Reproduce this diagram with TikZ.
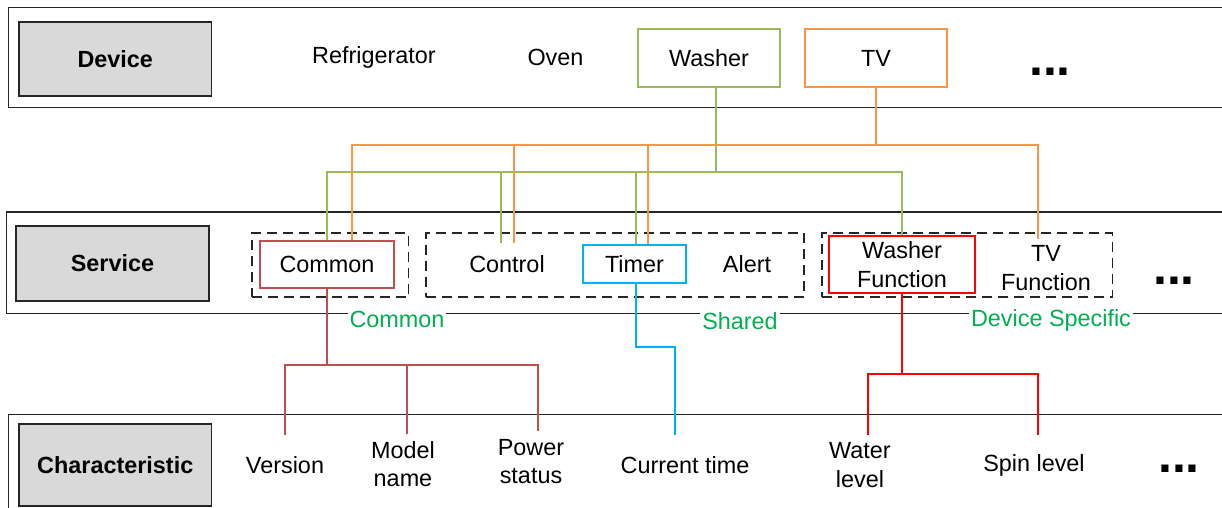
\documentclass[tikz,border=0pt]{standalone}
\usepackage{fontspec}
\setmainfont{Liberation Sans}
\definecolor{washergreen}{HTML}{9BBB59}
\definecolor{tvorange}{HTML}{F79646}
\definecolor{commonred}{HTML}{C0504D}
\definecolor{specred}{HTML}{FF0000}
\definecolor{timerblue}{HTML}{00B0F0}
\definecolor{taggreen}{HTML}{00B050}
\definecolor{layergray}{HTML}{D9D9D9}
\tikzset{inner sep=0pt}

\begin{document}
\begin{tikzpicture}[x=0.5pt,y=-0.5pt,font=\fontsize{11.7pt}{14.2pt}\selectfont,
        band/.style={draw=black!85,line width=0.9pt},
        layer/.style={draw=black!85,line width=0.8pt,fill=layergray,minimum width=96.25pt,minimum height=37pt,font=\fontsize{11.7pt}{14.2pt}\selectfont\bfseries},
        devbox/.style={draw,line width=0.8pt,minimum width=71pt,minimum height=29pt},
        group/.style={draw=black!85,line width=0.7pt,dash pattern=on 5pt off 3pt,minimum height=32pt},
        svcbox/.style={draw,line width=1pt},
        svctext/.style={align=center,minimum height=20.4pt},
        chr/.style={align=center,minimum height=30pt},
        tag/.style={text=taggreen,fill=white,inner sep=1pt},
        more/.style={font=\fontsize{25pt}{25pt}\selectfont\bfseries,anchor=base},
        link/.style={line width=1pt}]
        \useasboundingbox (0,0) rectangle (1222,508);

        \draw[band] (1222,7.5) -| (8.5,107.5) -- (1222,107.5);
        \draw[band] (1222,211.7) -| (6.5,313.4) -- (1222,313.4);
        \draw[band] (1222,414.5) -| (8.5,508);

        \node[layer] (device) at (115.25,59) {Device};
        \node[layer,minimum height=37.5pt] (service) at (112.5,263.5) {Service};
        \node[layer,minimum height=41pt] (characteristic) at (115.25,465) {Characteristic};

        \node (fridge) at (374,57) {Refrigerator};
        \node (oven) at (555.5,57) {Oven};
        \node[devbox,draw=washergreen] (washer) at (709,58) {Washer};
        \node[devbox,draw=tvorange] (tv) at (876,58) {TV};
        \node[more] (devmore) at (1050,76) {...};

        \node[group,minimum width=78.25pt] (commongrp) at (330.25,265) {};
        \node[group,minimum width=189pt] (sharedgrp) at (615,265) {};
        \node[group,minimum width=145.25pt] (specgrp) at (967.25,265) {};
        \node[svcbox,draw=commonred,minimum width=67pt,minimum height=23.5pt] (common) at (327,264.5) {Common};
        \node[svctext] (control) at (507,264) {Control};
        \node[svcbox,draw=timerblue,minimum width=51.5pt,minimum height=19pt] (timer) at (634.5,264) {Timer};
        \node[svctext] (alert) at (747,264) {Alert};
        \node[svcbox,draw=specred,align=center,minimum width=73pt,minimum height=28.5pt] (wfunc) at (902,264.5) {Washer\\Function};
        \node[svctext,minimum height=28.4pt] (tvfunc) at (1046,268) {TV\\Function};
        \node[more] (svcmore) at (1174,284.5) {...};

        \node[tag] (commontag) at (397,319) {Common};
        \node[tag] (sharedtag) at (740,321) {Shared};
        \node[tag] (spectag) at (1051,320) {Device Specific};

        \node[chr] (version) at (285,465) {Version};
        \node[chr] (modelname) at (403,464) {Model\\name};
        \node[chr] (powerstatus) at (531,461.5) {Power\\status};
        \node[chr] (currenttime) at (685,465) {Current time};
        \node[chr] (waterlevel) at (860,465) {Water\\level};
        \node[chr] (spinlevel) at (1034,465) {Spin level};
        \node[more] (chrmore) at (1179,472.5) {...};

        \coordinate (gbus) at (0,172);
        \coordinate (obus) at (0,145);
        \coordinate (cbus) at (0,365);
        \coordinate (wbus) at (0,374);
        \coordinate (timerjog) at (0,346.6);
        \coordinate (washerfoot) at ([xshift=3.25pt]washer.south);
        \coordinate (ctlg) at ([xshift=-3pt]control.north);
        \coordinate (ctlo) at ([xshift=3.5pt]control.north);
        \coordinate (timerg) at ([xshift=0.75pt]timer.north);
        \coordinate (timero) at ([xshift=6.75pt]timer.north);
        \coordinate (commono) at ([xshift=12.5pt]common.north);
        \coordinate (tvfo) at ([xshift=-4pt]tvfunc.north);
        \coordinate (timerfoot) at ([xshift=0.75pt]timer.south);
        \coordinate (ctimehead) at ([xshift=-4.8pt]currenttime.north);
        \coordinate (modelfoot) at ([xshift=1.75pt]modelname.north);
        \coordinate (powerfoot) at ([xshift=3.5pt]powerstatus.north);
        \coordinate (waterfoot) at ([xshift=3.85pt]waterlevel.north);
        \coordinate (spinfoot) at ([xshift=2.15pt]spinlevel.north);

        \draw[link,washergreen] (washerfoot) -- (washerfoot |- gbus);
        \draw[link,washergreen] (common.north) |- (wfunc.north |- gbus) -- (wfunc.north);
        \draw[link,washergreen] (ctlg |- gbus) -- (ctlg);
        \draw[link,washergreen] (timerg |- gbus) -- (timerg);

        \draw[link,tvorange] (tv.south) -- (tv.south |- obus);
        \draw[link,tvorange] (commono) |- (tvfo |- obus) -- (tvfo);
        \draw[link,tvorange] (ctlo |- obus) -- (ctlo);
        \draw[link,tvorange] (timero |- obus) -- (timero);

        \draw[link,commonred] (common.south) -- (common.south |- cbus);
        \draw[link,commonred] (version.north) |- (powerfoot |- cbus) -- (powerfoot);
        \draw[link,commonred] (modelfoot |- cbus) -- (modelfoot);

        \draw[link,timerblue] (timerfoot) |- (ctimehead |- timerjog) -- (ctimehead);

        \draw[link,specred] (wfunc.south) -- (wfunc.south |- wbus);
        \draw[link,specred] (waterfoot) |- (spinfoot |- wbus) -- (spinfoot);
    \end{tikzpicture}
\end{document}
